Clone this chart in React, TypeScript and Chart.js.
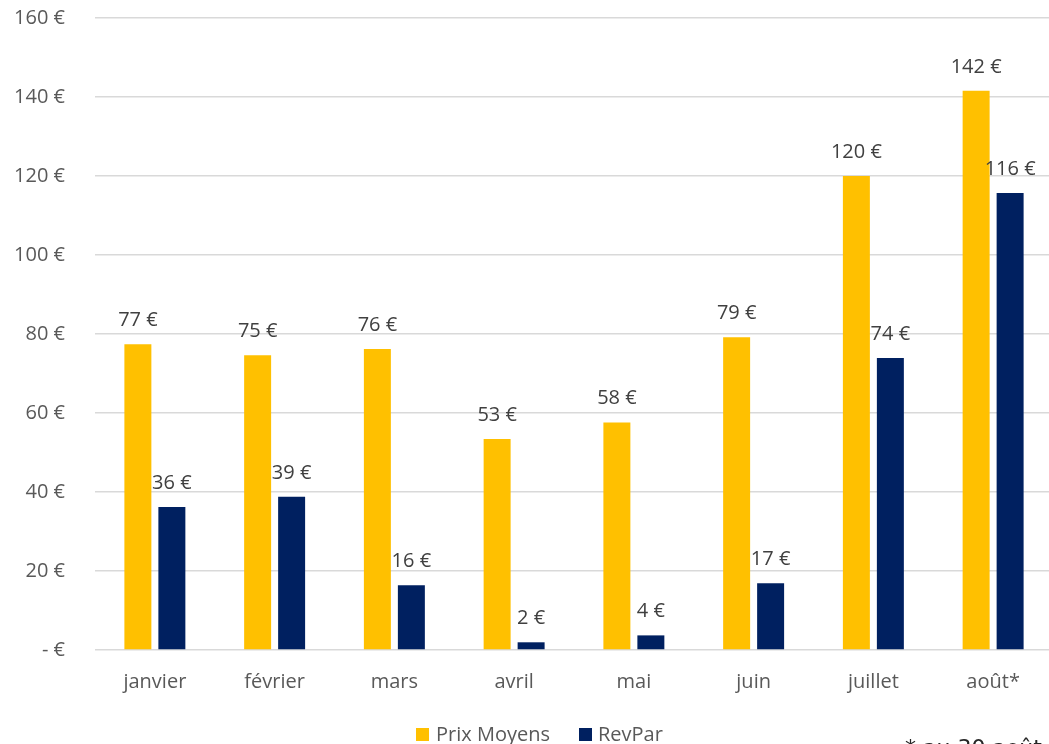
import React, { useEffect, useRef } from "react";
import { Chart, registerables } from "chart.js";

Chart.register(...registerables);

const categories = ["janvier", "février", "mars", "avril", "mai", "juin", "juillet", "août*"];
const prixMoyens = [77.4, 74.6, 76.2, 53.4, 57.6, 79.2, 120.0, 141.6];
const revPar = [36.2, 38.8, 16.4, 1.95, 3.7, 16.9, 73.9, 115.7];
const seriesNames = ["Prix Moyens", "RevPar"];
const seriesColors = ["#FFC000", "#002060"];
const footnote = "* au 30 août";

const FONT = "'Open Sans', sans-serif";

const labelsPlugin = {
  id: "valueLabels",
  afterDatasetsDraw(chart: any) {
    const ctx = chart.ctx;
    ctx.save();
    ctx.font = `20px ${FONT}`;
    ctx.fillStyle = "#404040";
    ctx.textAlign = "center";
    ctx.textBaseline = "alphabetic";
    chart.data.datasets.forEach((ds: any, i: number) => {
      const meta = chart.getDatasetMeta(i);
      meta.data.forEach((el: any, j: number) => {
        const v = ds.data[j];
        ctx.fillText(`${Math.round(v)} €`, el.x, el.y - 18);
      });
    });
    ctx.restore();
  },
};

const legendPlugin = {
  id: "customLegend",
  afterDraw(chart: any) {
    const ctx = chart.ctx;
    ctx.save();
    ctx.font = `20px ${FONT}`;
    ctx.textBaseline = "alphabetic";
    ctx.textAlign = "left";
    const boxes = [416, 579];
    const texts = [436, 598];
    chart.data.datasets.forEach((ds: any, i: number) => {
      ctx.fillStyle = ds.backgroundColor;
      ctx.fillRect(boxes[i], 728, 13, 13);
      ctx.fillStyle = "#595959";
      ctx.fillText(ds.label, texts[i], 741);
    });
    ctx.font = `22px 'DejaVu Sans', sans-serif`;
    ctx.fillStyle = "#262626";
    ctx.fillText(footnote, 905, 755);
    ctx.restore();
  },
};

export default function App() {
  const ref = useRef<HTMLCanvasElement | null>(null);
  useEffect(() => {
    if (!ref.current) return;
    const chart = new Chart(ref.current, {
      type: "bar",
      data: {
        labels: categories,
        datasets: [
          { label: seriesNames[0], data: prixMoyens, backgroundColor: seriesColors[0] },
          { label: seriesNames[1], data: revPar, backgroundColor: seriesColors[1] },
        ],
      },
      options: {
        animation: false,
        responsive: false,
        devicePixelRatio: 1,
        layout: { padding: { top: 18, right: 27, left: 0, bottom: 0 } },
        datasets: {
          bar: { categoryPercentage: 0.5676, barPercentage: 0.794 },
        },
        plugins: {
          legend: { display: false },
          title: { display: false },
          tooltip: { enabled: false },
        },
        scales: {
          x: {
            grid: { display: false, drawTicks: false },
            border: { display: false },
            ticks: { color: "#595959", font: { family: FONT, size: 20 }, padding: 20 },
            afterFit: (s: any) => {
              s.height = 94;
            },
          },
          y: {
            min: 0,
            max: 160,
            ticks: {
              stepSize: 20,
              color: "#595959",
              font: { family: FONT, size: 20 },
              padding: 30,
              callback: (v: any) => (Number(v) === 0 ? "- €" : `${v} €`),
            },
            grid: { color: "#d9d9d9", lineWidth: 1.5, drawTicks: false },
            border: { display: false },
            afterFit: (s: any) => {
              s.width = 95;
              s.paddingTop = 0;
              s.paddingBottom = 0;
            },
          },
        },
      },
      plugins: [labelsPlugin, legendPlugin],
    });
    return () => chart.destroy();
  }, []);
  return (
    <div style={{ position: "fixed", left: 0, top: 0, width: 1049, height: 744, overflow: "hidden", background: "#fff" }}>
      <canvas ref={ref} width={1080} height={744} style={{ position: "absolute", left: 0, top: 0 }} />
    </div>
  );
}
